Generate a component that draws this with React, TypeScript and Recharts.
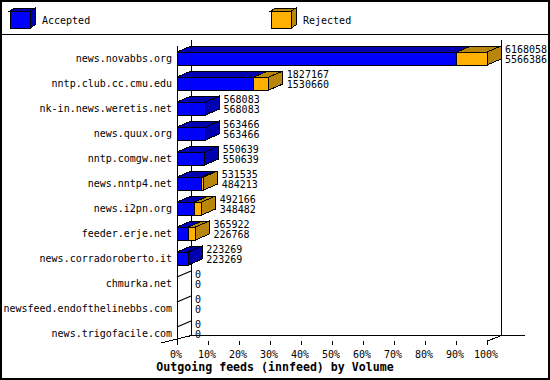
import React from "react";
import { BarChart, Bar, XAxis, YAxis, LabelList } from "recharts";

// outgoing feeds, offered (total) and accepted articles per peer
const servers = [
  "news.novabbs.org",
  "nntp.club.cc.cmu.edu",
  "nk-in.news.weretis.net",
  "news.quux.org",
  "nntp.comgw.net",
  "news.nntp4.net",
  "news.i2pn.org",
  "feeder.erje.net",
  "news.corradoroberto.it",
  "chmurka.net",
  "newsfeed.endofthelinebbs.com",
  "news.trigofacile.com",
];
const offered = [6168058, 1827167, 568083, 563466, 550639, 531535, 492166, 365922, 223269, 0, 0, 0];
const acceptedVals = [5566386, 1530660, 568083, 563466, 550639, 484213, 348482, 226768, 223269, 0, 0, 0];
const tickPercents = [0, 10, 20, 30, 40, 50, 60, 70, 80, 90, 100];
const seriesNames = ["Accepted", "Rejected"];

const data = servers.map((name, i) => ({
  name,
  total: offered[i],
  accepted: acceptedVals[i],
  rejected: offered[i] - acceptedVals[i],
}));
const maxTotal = Math.max(...offered);

// layout
const W = 550;
const H = 380;
const PLOT_LEFT = 177;
const PLOT_RIGHT = 487;
const PLOT_TOP = 46;
const X_AXIS_H = 34;
const BAR_SIZE = 13;
const FLOOR = 341;
const DX = 14;
const DY = 6;
const MONO = "'DejaVu Sans Mono', monospace";

const colors = {
  accepted: { front: "#0000FF", dark: "#0000B0" },
  rejected: { front: "#FFB000", dark: "#B8860B" },
};

const poly = (pts: number[][]) => pts.map((p) => p.join(",")).join(" ");

const drawBlock = (x: number, y: number, w: number, h: number, c: { front: string; dark: string }, side: boolean) => (
  <g shapeRendering="crispEdges" stroke="#000" strokeWidth={1}>
    <rect x={x} y={y} width={w} height={h} fill={c.front} />
    <polygon points={poly([[x, y], [x + DX, y - DY], [x + w + DX, y - DY], [x + w, y]])} fill={c.dark} />
    {side && (
      <polygon
        points={poly([[x + w, y], [x + w + DX, y - DY], [x + w + DX, y + h - DY], [x + w, y + h]])}
        fill={c.dark}
      />
    )}
  </g>
);

const AcceptedShape = (props: any) => {
  const { x, y, width, height, payload } = props;
  if (!width || width <= 0) return <g />;
  return drawBlock(x, y, width, height, colors.accepted, payload.rejected === 0);
};

const RejectedShape = (props: any) => {
  const { x, y, width, height } = props;
  if (!width || width <= 0) return <g />;
  return drawBlock(x, y, width, height, colors.rejected, true);
};

// value pair at the bar end; empty rows get the flat top edge of a zero-length bar
const ValueLabel = (props: any) => {
  const { x, y, width, height, index } = props;
  const row = data[index];
  if (!row) return null;
  const tx = x + (width || 0) + DX + 4;
  const cy = y + height / 2;
  return (
    <g>
      {row.total === 0 && (
        <line x1={x} y1={y} x2={x + DX} y2={y - DY} stroke="#000" strokeWidth={1.3} />
      )}
      <g fontFamily={MONO} fontSize={10} fill="#000">
        <text x={tx} y={cy - 6}>{row.total}</text>
        <text x={tx} y={cy + 4.5}>{row.accepted}</text>
      </g>
    </g>
  );
};

const NameTick = (props: any) => {
  const { y, payload } = props;
  return (
    <text x={PLOT_LEFT - 5} y={y + 3.5} textAnchor="end" fontFamily={MONO} fontSize={10} fill="#000">
      {payload.value}
    </text>
  );
};

const PctTick = (props: any) => {
  const { x, index } = props;
  const xs = Math.round(x) + 0.5;
  return (
    <g>
      <line x1={xs} y1={FLOOR} x2={xs} y2={FLOOR + 4} stroke="#000" />
      <text x={x - 1} y={357.5} textAnchor="middle" fontFamily={MONO} fontSize={10} fill="#000">
        {tickPercents[index]}%
      </text>
    </g>
  );
};

const LegendCube = ({ x, c }: { x: number; c: { front: string; dark: string } }) => (
  <g shapeRendering="crispEdges" stroke="#000" strokeWidth={1}>
    <rect x={x} y={11} width={20} height={17} fill={c.front} />
    <polygon points={poly([[x, 11], [x + 5, 8], [x + 25, 8], [x + 20, 11]])} fill={c.dark} />
    <polygon points={poly([[x + 20, 11], [x + 25, 8], [x + 25, 25], [x + 20, 28]])} fill={c.dark} />
  </g>
);

const Backdrop = () => {
  const bl = PLOT_LEFT + DX + 0.5;
  const br = PLOT_RIGHT + DX + 0.5;
  const back = FLOOR - DY + 0.5;
  return (
    <svg width={W} height={H} style={{ position: "absolute", left: 0, top: 0 }}>
      <rect x={0} y={0} width={W} height={H} fill="#fff" />
      <rect x={1} y={1} width={W - 2} height={H - 2} fill="none" stroke="#000" strokeWidth={2} />
      <line x1={0} y1={34.5} x2={W} y2={34.5} stroke="#000" />
      <LegendCube x={10} c={colors.accepted} />
      <text x={42} y={23.5} fontFamily={MONO} fontSize={10}>{seriesNames[0]}</text>
      <LegendCube x={271} c={colors.rejected} />
      <text x={303} y={23.5} fontFamily={MONO} fontSize={10}>{seriesNames[1]}</text>
      <g stroke="#000" strokeWidth={1} shapeRendering="crispEdges">
        <line x1={bl} y1={40} x2={bl} y2={back} />
        <line x1={br} y1={40} x2={br} y2={back} />
        <line x1={PLOT_LEFT + 0.5} y1={46} x2={PLOT_LEFT + 0.5} y2={FLOOR} />
        <line x1={bl} y1={back} x2={525} y2={back} />
        <line x1={PLOT_RIGHT + 0.5} y1={FLOOR} x2={br} y2={back} />
        <line x1={161} y1={343} x2={bl} y2={back} />
      </g>
      <text x={275} y={370.5} textAnchor="middle" fontFamily={MONO} fontSize={11.6} fontWeight="bold">
        Outgoing feeds (innfeed) by Volume
      </text>
    </svg>
  );
};

export default function App() {
  return (
    <div style={{ position: "absolute", left: 0, top: 0, width: W, height: H }}>
      <Backdrop />
      <div style={{ position: "absolute", left: 0, top: 0 }}>
        <BarChart
          width={W}
          height={H}
          data={data}
          layout="vertical"
          barSize={BAR_SIZE}
          margin={{ top: PLOT_TOP, right: W - PLOT_RIGHT, bottom: 0, left: 0 }}
        >
          <XAxis
            type="number"
            domain={[0, maxTotal]}
            ticks={tickPercents.map((p) => (p / 100) * maxTotal)}
            interval={0}
            height={X_AXIS_H}
            axisLine={false}
            tickLine={false}
            tick={<PctTick />}
          />
          <YAxis
            type="category"
            dataKey="name"
            width={PLOT_LEFT}
            interval={0}
            axisLine={false}
            tickLine={false}
            tick={<NameTick />}
          />
          <Bar dataKey="accepted" stackId="a" shape={AcceptedShape} isAnimationActive={false} />
          <Bar dataKey="rejected" stackId="a" shape={RejectedShape} isAnimationActive={false}>
            <LabelList dataKey="total" content={ValueLabel} />
          </Bar>
        </BarChart>
      </div>
    </div>
  );
}
